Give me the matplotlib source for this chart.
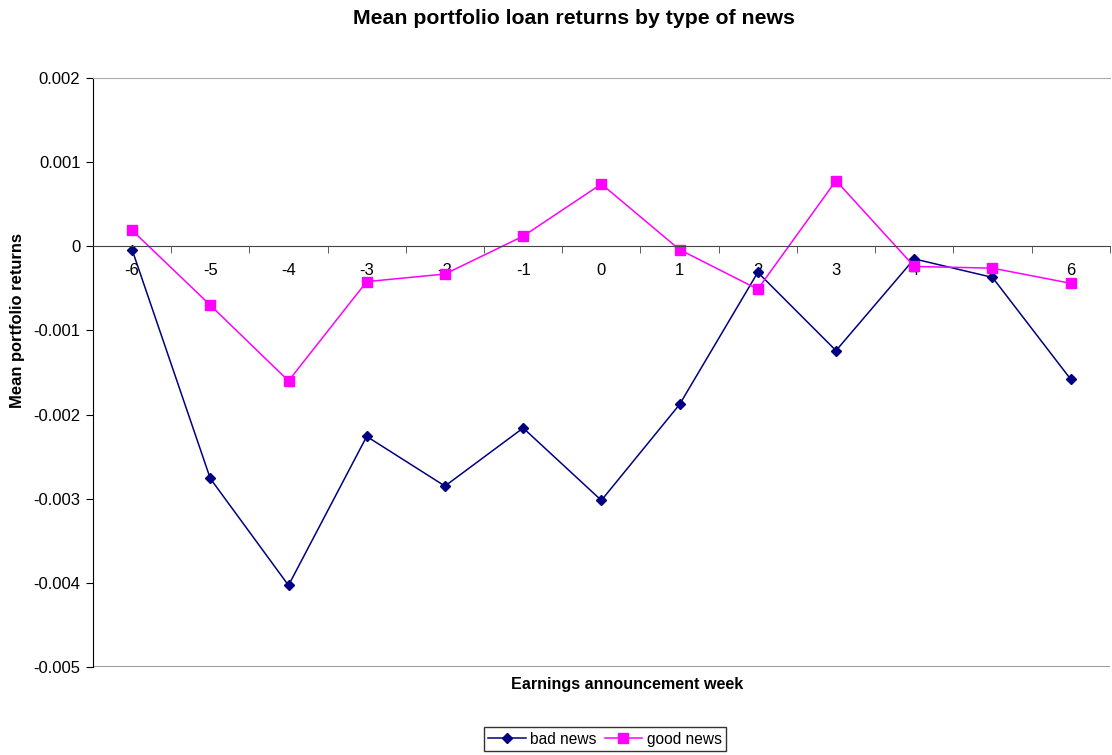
import matplotlib.pyplot as plt
import numpy as np

weeks = [-6, -5, -4, -3, -2, -1, 0, 1, 2, 3, 4, 5, 6]
bad_news = [-0.00004, -0.00276, -0.00403, -0.00226, -0.00285, -0.00216, -0.00302,
            -0.00188, -0.00031, -0.00124, -0.00015, -0.00037, -0.00158]
good_news = [0.00019, -0.00070, -0.00160, -0.00042, -0.00033, 0.00012, 0.00074,
             -0.00004, -0.00051, 0.00078, -0.00024, -0.00026, -0.00044]
y_ticks = [0.002, 0.001, 0, -0.001, -0.002, -0.003, -0.004, -0.005]

plt.rcParams['font.family'] = ['Liberation Sans', 'DejaVu Sans']

fig = plt.figure(figsize=(11.12, 7.55), dpi=100)
ax = fig.add_axes([0.0836, 0.1166, 0.9144, 0.7801])

x = np.arange(len(weeks))
ax.plot(x, bad_news, color='#000080', marker='D', markersize=5, linewidth=1.1, label='bad news')
ax.plot(x, good_news, color='#FF00FF', marker='s', markersize=7, linewidth=1.1, label='good news')

ax.set_xlim(-0.5, len(weeks) - 0.5)
ax.set_ylim(-0.005, 0.002)

# category axis crosses at zero, labels below it, ticks between categories
ax.spines['bottom'].set_position(('data', 0))
ax.spines['bottom'].set_color('#444444')
ax.spines['right'].set_visible(False)
ax.spines['top'].set_color('#aaaaaa')
ax.axhline(-0.005, color='#888888', linewidth=1.2)
ax.set_xticks(x)
ax.set_xticklabels([str(w) for w in weeks], fontsize=12)
ax.tick_params(axis='x', which='major', length=0, pad=12)
ax.set_xticks(np.arange(len(weeks) + 1) - 0.5, minor=True)
ax.tick_params(axis='x', which='minor', length=5, direction='out', color='#444444')

ax.set_yticks(y_ticks)
ax.set_yticklabels(['0.002', '0.001', '0', '-0.001', '-0.002', '-0.003', '-0.004', '-0.005'], fontsize=12)
ax.tick_params(axis='y', length=5, direction='out', pad=4)

fig.text(0.516, 0.975, 'Mean portfolio loan returns by type of news', ha='center', va='center',
         fontsize=15.3, fontweight='bold')
fig.text(0.564, 0.093, 'Earnings announcement week', ha='center', va='center',
         fontsize=11.6, fontweight='bold')
fig.text(0.0155, 0.575, 'Mean portfolio returns', ha='center', va='center', rotation=90,
         fontsize=11.9, fontweight='bold')

leg = fig.legend(loc='center', bbox_to_anchor=(0.544, 0.021), ncol=2, fontsize=11.2,
                 frameon=True, fancybox=False, edgecolor='black', handlelength=2.4,
                 columnspacing=0.5, handletextpad=0.3, borderpad=0.3)
leg.get_frame().set_linewidth(1.0)

fig.savefig('out.png', dpi=100)
